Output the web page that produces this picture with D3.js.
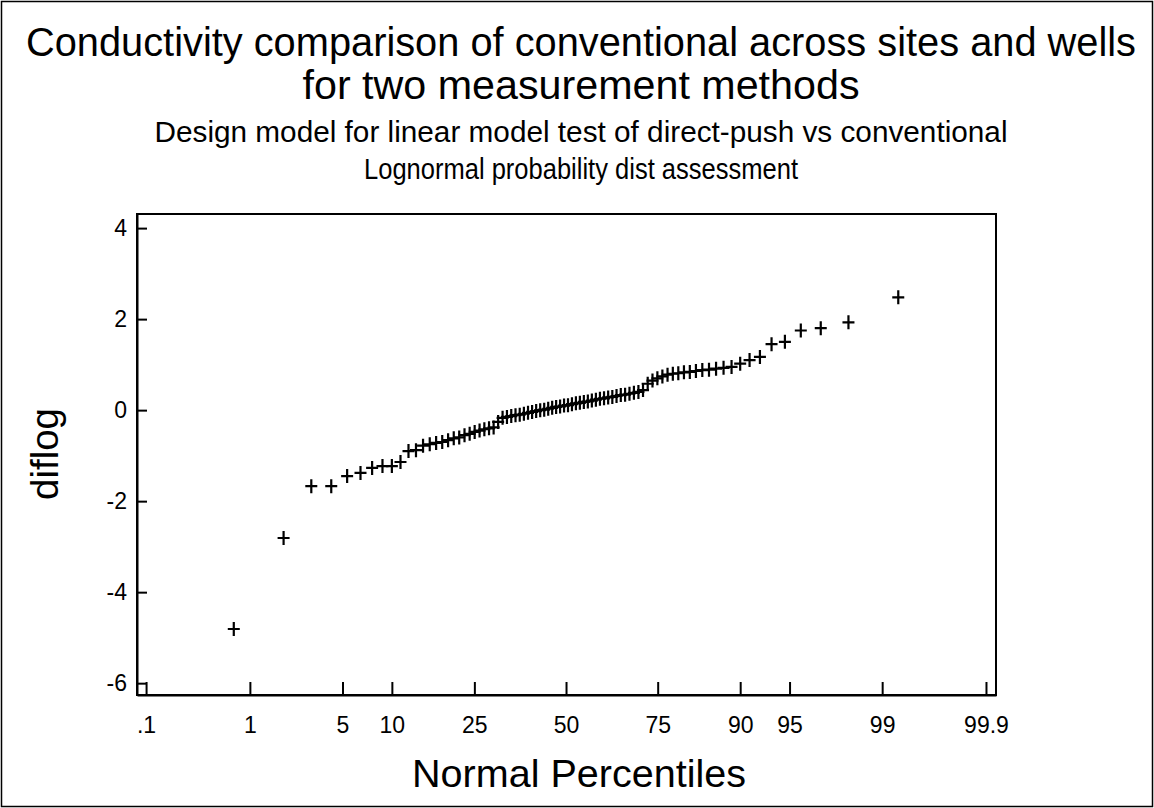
<!DOCTYPE html>
<html>
<head>
<meta charset="utf-8">
<title>diflog normal probability plot</title>
<script src="https://cdn.jsdelivr.net/npm/d3@7"></script>
<style>
  body { margin: 0; background: #fff; }
  text { font-family: "Liberation Sans", Arial, sans-serif; fill: #000; }
</style>
</head>
<body>
<script>
    // sorted diflog values (86 obs)
    var diflog = [
        -4.81, -2.81, -1.67, -1.67, -1.45, -1.38, -1.27, -1.23, -1.23, -1.14,
        -0.90, -0.88, -0.78, -0.75, -0.72, -0.70, -0.66, -0.62, -0.60, -0.55,
        -0.52, -0.48, -0.45, -0.42, -0.40, -0.38, -0.26, -0.17, -0.15, -0.13,
        -0.11, -0.10, -0.08, -0.06, -0.04, -0.02, 0.00, 0.01, 0.03, 0.05,
        0.07, 0.08, 0.10, 0.11, 0.13, 0.15, 0.16, 0.18, 0.19, 0.21,
        0.23, 0.25, 0.26, 0.28, 0.29, 0.31, 0.33, 0.34, 0.36, 0.38,
        0.40, 0.44, 0.58, 0.65, 0.70, 0.74, 0.78, 0.80, 0.81, 0.83,
        0.84, 0.86, 0.88, 0.89, 0.91, 0.93, 0.95, 1.02, 1.10, 1.17,
        1.45, 1.50, 1.75, 1.80, 1.93, 2.48
    ];
    var pctTicks = [0.1, 1, 5, 10, 25, 50, 75, 90, 95, 99, 99.9];
    var pctLabels = [".1", "1", "5", "10", "25", "50", "75", "90", "95", "99", "99.9"];
    var yTicks = [-6, -4, -2, 0, 2, 4];

    var width = 1154;
    var height = 808;
    var frame = {left: 137, right: 996, top: 214, bottom: 695};

    // inverse normal cdf (Acklam)
    function probit(p)
    {
        var a = [-3.969683028665376e+01, 2.209460984245205e+02, -2.759285104469687e+02,
                 1.383577518672690e+02, -3.066479806614716e+01, 2.506628277459239e+00];
        var b = [-5.447609879822406e+01, 1.615858368580409e+02, -1.556989798598866e+02,
                 6.680131188771972e+01, -1.328068155288572e+01];
        var c = [-7.784894002430293e-03, -3.223964580411365e-01, -2.400758277161838e+00,
                 -2.549732539343734e+00, 4.374664141464968e+00, 2.938163982698783e+00];
        var d = [7.784695709041462e-03, 3.224671290700398e-01, 2.445134137142996e+00,
                 3.754408661907416e+00];
        var q, r;
        if (p < 0.02425) {
            q = Math.sqrt(-2 * Math.log(p));
            return (((((c[0]*q+c[1])*q+c[2])*q+c[3])*q+c[4])*q+c[5]) /
                   ((((d[0]*q+d[1])*q+d[2])*q+d[3])*q+1);
        }
        if (p > 1 - 0.02425) {
            q = Math.sqrt(-2 * Math.log(1 - p));
            return -(((((c[0]*q+c[1])*q+c[2])*q+c[3])*q+c[4])*q+c[5]) /
                    ((((d[0]*q+d[1])*q+d[2])*q+d[3])*q+1);
        }
        q = p - 0.5;
        r = q * q;
        return (((((a[0]*r+a[1])*r+a[2])*r+a[3])*r+a[4])*r+a[5])*q /
               (((((b[0]*r+b[1])*r+b[2])*r+b[3])*r+b[4])*r+1);
    }

    var n = diflog.length;
    // Blom plotting positions
    var points = diflog.map(function(v, i){
        return {z: probit((i + 1 - 0.375) / (n + 0.25)), v: v};
    });

    var x = d3.scaleLinear().domain([-3.157, 3.164]).range([frame.left, frame.right]);
    var y = d3.scaleLinear().domain([-6.26, 4.31]).range([frame.bottom, frame.top]);

    var svg = d3.select("body")
        .append("svg")
        .attr("width", width)
        .attr("height", height);

    // outer border
    svg.append("rect")
        .attr("x", 1.5).attr("y", 1.5)
        .attr("width", width - 3).attr("height", height - 3)
        .attr("fill", "none").attr("stroke", "#000").attr("stroke-width", 1.5);

    // titles
    var titles = [
        {t: "Conductivity comparison of conventional across sites and wells", y: 56, size: 40, len: 1110},
        {t: "for two measurement methods", y: 99, size: 40, len: 557},
        {t: "Design model for linear model test of direct-push vs conventional", y: 142, size: 29, len: 853},
        {t: "Lognormal probability dist assessment", y: 179, size: 29, len: 434}
    ];
    svg.selectAll("text.title")
        .data(titles)
        .enter().append("text")
        .attr("class", "title")
        .attr("x", 581)
        .attr("y", function(d){ return d.y; })
        .attr("text-anchor", "middle")
        .attr("font-size", function(d){ return d.size + "px"; })
        .attr("textLength", function(d){ return d.len; })
        .attr("lengthAdjust", "spacingAndGlyphs")
        .text(function(d){ return d.t; });

    // frame
    svg.append("rect")
        .attr("x", frame.left).attr("y", frame.top)
        .attr("width", frame.right - frame.left)
        .attr("height", frame.bottom - frame.top)
        .attr("fill", "none").attr("stroke", "#000").attr("stroke-width", 2);

    var xAxis = d3.axisBottom(x)
        .tickValues(pctTicks.map(function(p){ return probit(p / 100); }))
        .tickFormat(function(d, i){ return pctLabels[i]; })
        .tickSizeInner(-13).tickSizeOuter(0).tickPadding(22);
    var gx = svg.append("g")
        .attr("transform", "translate(0," + frame.bottom + ")")
        .call(xAxis);

    var yAxis = d3.axisLeft(y)
        .tickValues(yTicks)
        .tickFormat(function(d){ return String(d); })
        .tickSizeInner(-10).tickSizeOuter(0).tickPadding(10);
    var gy = svg.append("g")
        .attr("transform", "translate(" + frame.left + ",0)")
        .call(yAxis);

    [gx, gy].forEach(function(g){
        g.select(".domain").attr("stroke", "#000").attr("stroke-width", 2);
        g.selectAll(".tick line").attr("stroke", "#000").attr("stroke-width", 2);
        g.selectAll(".tick text")
            .attr("font-family", "Liberation Sans, Arial, sans-serif")
            .attr("font-size", "23px")
            .attr("fill", "#000");
    });

    // axis titles
    svg.append("text")
        .attr("x", 579).attr("y", 787)
        .attr("text-anchor", "middle")
        .attr("font-size", "39px")
        .attr("textLength", 334)
        .attr("lengthAdjust", "spacingAndGlyphs")
        .text("Normal Percentiles");

    svg.append("text")
        .attr("transform", "translate(58,454) rotate(-90)")
        .attr("text-anchor", "middle")
        .attr("font-size", "39px")
        .attr("textLength", 92)
        .attr("lengthAdjust", "spacingAndGlyphs")
        .text("diflog");

    // plus markers
    svg.selectAll("path.pt")
        .data(points)
        .enter().append("path")
        .attr("class", "pt")
        .attr("transform", function(d){ return "translate(" + x(d.z) + "," + y(d.v) + ")"; })
        .attr("d", "M-6,0H6M0,-7V7")
        .attr("stroke", "#000")
        .attr("stroke-width", 2.2)
        .attr("fill", "none");
</script>
</body>
</html>
